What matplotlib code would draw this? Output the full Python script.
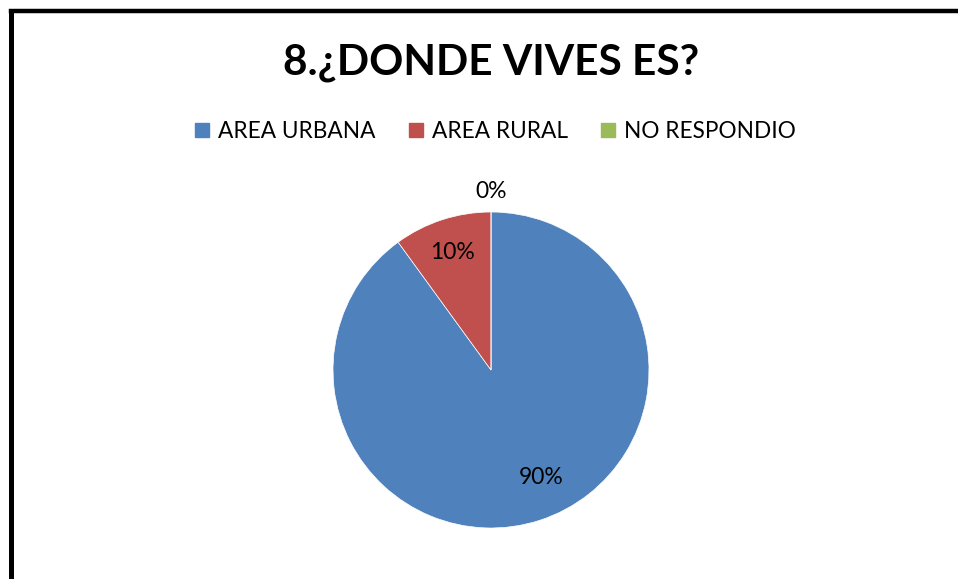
import matplotlib
matplotlib.use("Agg")
import matplotlib.pyplot as plt
from matplotlib.lines import Line2D
import numpy as np

categories = ["AREA URBANA", "AREA RURAL", "NO RESPONDIO"]
values = [90, 10, 0]
title = "8.¿DONDE VIVES ES?"
colors = ["#4F81BD", "#C0504D", "#9BBB59"]

plt.rcParams['font.family'] = ['Lato', 'DejaVu Sans']

W, H = 958, 579
fig = plt.figure(figsize=(W / 100, H / 100), dpi=100)
fig.patch.set_facecolor("white")

# frame lines (top and left, as in the cropped reference)
fig.add_artist(Line2D([10.5 / W, 1.0], [1 - 10.5 / H, 1 - 10.5 / H], color="black", lw=3.2,
                      transform=fig.transFigure))
fig.add_artist(Line2D([10.5 / W, 10.5 / W], [0, 1 - 10.5 / H], color="black", lw=3.6,
                      transform=fig.transFigure))

cx, cy, r = 491, 370, 158
ax = fig.add_axes([(cx - r) / W, (H - cy - r) / H, 2 * r / W, 2 * r / H])
wedges, texts, autotexts = ax.pie(
    values, colors=colors, startangle=90, counterclock=False,
    autopct=lambda p: f"{p:.0f}%", pctdistance=0.77,
    wedgeprops=dict(edgecolor="white", linewidth=0.5),
    textprops=dict(fontsize=16.5, color="black"), radius=1.0)
ax.set_xlim(-1, 1)
ax.set_ylim(-1, 1)
ax.set_aspect("equal")
ax.axis("off")

# label placement similar to the reference (zero label outside, big label shifted)
for w, t, v in zip(wedges, autotexts, values):
    mid = (w.theta1 + w.theta2) / 2
    if v == 0:
        ang, d = np.deg2rad(mid), 1.13
    elif v == max(values):
        ang, d = np.deg2rad(mid + 7), 0.75
    else:
        ang, d = np.deg2rad(mid), 0.78
    t.set_position((d * np.cos(ang), d * np.sin(ang)))

fig.text(491 / W, 1 - 63 / H, title, ha="center", va="center",
         fontsize=30.5, fontweight="bold")

handles = [Line2D([], [], marker="s", linestyle="none", markersize=10,
                  markerfacecolor=c, markeredgecolor=c) for c in colors]
fig.legend(handles, categories, loc="center", bbox_to_anchor=(495 / W, 1 - 131 / H),
           ncol=3, frameon=False, fontsize=16.3, handlelength=0.7, handletextpad=0.35,
           columnspacing=1.45)

fig.savefig("out.png", dpi=100, facecolor="white")
